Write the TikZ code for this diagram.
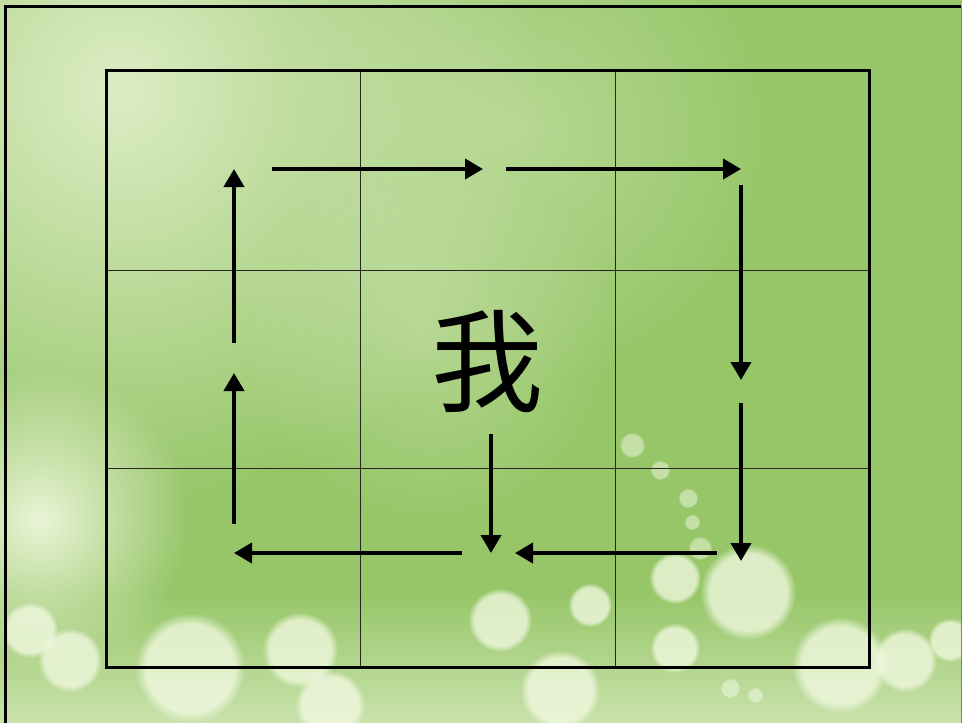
\documentclass[tikz,border=0pt]{standalone}
\usepackage{fontspec}
\newfontfamily\cjk{Noto Sans CJK SC}
\usetikzlibrary{arrows.meta,positioning,calc,fadings}
\definecolor{bglight}{RGB}{208,228,182}
\definecolor{bggreen}{RGB}{150,198,104}
\definecolor{bokeh}{RGB}{244,250,228}
\tikzfading[name=softspot, inner color=transparent!0, outer color=transparent!100]
\tikzfading[name=risefade, top color=transparent!100, bottom color=transparent!0]

\begin{document}
\begin{tikzpicture}[x=1pt, y=-1pt,
    gridline/.style={line width=1pt, black!85},
    gridframe/.style={line width=3pt, black},
    strokearrow/.style={line width=4pt, -{Triangle[length=18pt,width=20pt]}},
    glow/.style={fill=bokeh, path fading=softspot},
    bubble/.style={fill=bokeh, path fading=circle with fuzzy edge 20 percent, opacity=0.75},
]
    \useasboundingbox (0,0) rectangle (962,723);

    % Background (green with soft light spots)
    \fill[bggreen] (0,0) rectangle (962,723);
    \fill[glow, opacity=0.75] (120,90) circle (420);
    \fill[glow, opacity=0.35] (520,130) circle (260);
    \fill[glow, opacity=0.3] (430,340) circle (190);
    \fill[glow, opacity=0.9] (40,520) circle (150);
    \fill[bokeh, path fading=risefade, opacity=0.55] (0,590) rectangle (962,723);
    \foreach \x/\y/\r in {30/630/28, 70/660/32, 190/668/55, 300/650/38, 330/705/35,
                          500/620/32, 560/690/40, 675/578/26, 748/592/48, 675/648/25,
                          840/665/48, 905/660/32, 950/640/22, 590/605/22}
        \fill[bubble] (\x,\y) circle (\r);
    \foreach \x/\y/\r in {632/445/13, 660/470/10, 688/498/10, 692/522/8, 700/548/12,
                          730/688/10, 755/695/8}
        \fill[bubble, opacity=0.5] (\x,\y) circle (\r);

    % Outer frame of the slide
    \draw[line width=2.5pt] (5.5,723) -- (5.5,6.5) -- (961,6.5);
    \draw[line width=1pt, black!50] (961,6.5) -- (961,723);

    % 3 x 3 writing grid
    \draw[gridline] (360,70) -- (360,667) (615,70) -- (615,667)
                    (106,270) -- (869,270) (106,468) -- (869,468);
    \draw[gridframe] (106,70) rectangle (869,667);

    % Character
    \node[font=\cjk\fontsize{112}{112}\selectfont, inner sep=0pt] (wo) at (487,362) {我};

    % Arrow end points (start/end of each stroke)
    \coordinate (up1-s) at (234,343);   \coordinate (up1-e) at (234,169);
    \coordinate (up2-s) at (234,524);   \coordinate (up2-e) at (234,373);
    \coordinate (rt1-s) at (272,169);   \coordinate (rt1-e) at (483,169);
    \coordinate (rt2-s) at (506,169);   \coordinate (rt2-e) at (741,169);
    \coordinate (dn1-s) at (741,185);   \coordinate (dn1-e) at (741,380);
    \coordinate (dn2-s) at (741,403);   \coordinate (dn2-e) at (741,561);
    \coordinate (lf1-s) at (717,553);   \coordinate (lf1-e) at (515,553);
    \coordinate (lf2-s) at (462,553);   \coordinate (lf2-e) at (234,553);
    \coordinate (dn3-s) at (491,434);   \coordinate (dn3-e) at (491,553);

    % Stroke arrows round the grid
    \foreach \a in {up1,up2,rt1,rt2,dn1,dn2,lf1,lf2,dn3}
        \draw[strokearrow] (\a-s) -- (\a-e);
\end{tikzpicture}
\end{document}
